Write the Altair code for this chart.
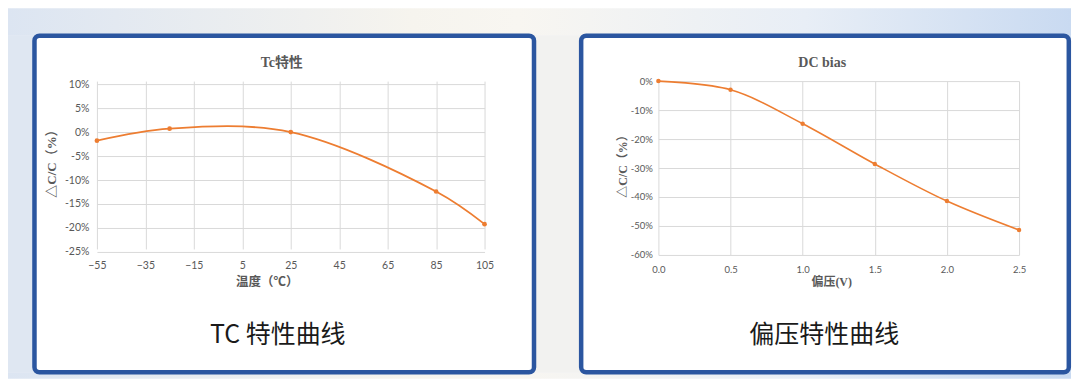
import altair as alt
import pandas as pd

# ---- data ----
temp_c = [-55, -25, 25, 85, 105]
tc_change = [-1.8, 0.7, 0.0, -12.4, -19.2]

bias_v = [0.0, 0.5, 1.0, 1.5, 2.0, 2.5]
dc_change = [0.0, -3.0, -14.7, -28.6, -41.4, -51.4]

tc_x_ticks = [-55, -35, -15, 5, 25, 45, 65, 85, 105]
tc_y_ticks = [-25, -20, -15, -10, -5, 0, 5, 10]
dc_x_ticks = [0.0, 0.5, 1.0, 1.5, 2.0, 2.5]
dc_y_ticks = [-60, -50, -40, -30, -20, -10, 0]

tc_df = pd.DataFrame({"t": temp_c, "c": tc_change})
dc_df = pd.DataFrame({"v": bias_v, "c": dc_change})
one = pd.DataFrame({"k": [0]})

ORANGE = "#ED7D31"
GRID = "#D9D9D9"
LABEL = "#595959"
CARD = "#2B56A0"
SERIF = "Liberation Serif, Noto Sans CJK SC"
SANS = "Lato, Noto Sans CJK SC"
CJK = "Noto Sans CJK SC"

grad = alt.LinearGradient(
    gradient="linear",
    stops=[
        alt.GradientStop(color="#DCE5F2", offset=0),
        alt.GradientStop(color="#F6F4EE", offset=0.38),
        alt.GradientStop(color="#F8F6F1", offset=0.48),
        alt.GradientStop(color="#E8EEF6", offset=0.75),
        alt.GradientStop(color="#C9DAF1", offset=1),
    ],
    x1=0, x2=1, y1=0, y2=0,
)


def rect(x, x2, y, y2, **kw):
    return alt.Chart(one).mark_rect(**kw).encode(
        x=alt.value(x), x2=alt.value(x2), y=alt.value(y), y2=alt.value(y2)
    )


def label_text(txt, x, y, **kw):
    return alt.Chart(one).mark_text(text=txt, align="center", baseline="middle", **kw).encode(
        x=alt.value(x), y=alt.value(y)
    )


def axis_common(**kw):
    base = dict(
        grid=True, gridColor=GRID, gridWidth=1, domain=False, ticks=False,
        labelColor=LABEL, labelFont=SANS, labelOverlap=False, labelFlush=False,
        titleColor=LABEL, titleAlign="center", titleBaseline="middle",
    )
    base.update(kw)
    return alt.Axis(**base)


# ---------- panel 1 : TC ----------
W1, H1 = 388, 171
x1 = alt.X("t:Q", scale=alt.Scale(domain=[-55, 105], nice=False, zero=False),
           axis=axis_common(values=tc_x_ticks, title="温度（℃）", labelFontSize=10.5,
                            labelPadding=9, titleFont=SERIF, titleFontWeight="bold",
                            titleFontSize=12.5, titleX=170, titleY=30))
y1 = alt.Y("c:Q", scale=alt.Scale(domain=[-25, 10], nice=False, zero=False, range=[171, 3]),
           axis=axis_common(values=tc_y_ticks, labelExpr="datum.value + '%'", title="△C/C（%）",
                            labelFontSize=10.5, labelPadding=8, titleFont=SERIF,
                            titleFontSize=13, titleX=-45, titleY=79, titleAngle=270))

bg = [
    rect(-89, 975, -73, -45.5, fill=grad),
    rect(-89, 975, 291.5, 298, fill=grad),
    rect(-89, -62.5, -46, 292, fill="#DFE7F2"),
    rect(437.5, 484.7, -46, 292, fill="#F2F2F0"),
    rect(972.8, 975, -46, 292, fill="#CCDCF2"),
]
card1 = rect(-62.5, 437.5, -45.5, 291.5, fill=None, fillOpacity=0, stroke=CARD,
             strokeWidth=4.5, cornerRadius=5)

line1 = alt.Chart(tc_df).mark_line(interpolate="catmull-rom", color=ORANGE, strokeWidth=1.8).encode(x=x1, y=y1)
pts1 = alt.Chart(tc_df).mark_circle(size=22, color=ORANGE, opacity=1).encode(x=x1, y=y1)
title1 = label_text("Tc特性", 185, -18, font=SERIF, fontWeight="bold", fontSize=14, color=LABEL)
cap1 = label_text("TC 特性曲线", 181, 254, font=CJK, fontSize=25, color="#1A1A1A")

panel1 = alt.layer(*bg, card1, line1, pts1, title1, cap1).properties(width=W1, height=H1)

# ---------- panel 2 : DC bias ----------
W2, H2 = 361, 174
x2 = alt.X("v:Q", scale=alt.Scale(domain=[0, 2.5], nice=False, zero=False),
           axis=axis_common(values=dc_x_ticks, format=".1f", title="偏压(V)", labelFontSize=9.5,
                            labelPadding=10, titleFont=SERIF, titleFontWeight="bold",
                            titleFontSize=12, titleX=173, titleY=27))
y2 = alt.Y("c:Q", scale=alt.Scale(domain=[-60, 0], nice=False, zero=False),
           axis=axis_common(values=dc_y_ticks, labelExpr="datum.value + '%'", title="△C/C（%）",
                            labelFontSize=9.5, labelPadding=6, titleFont=SERIF,
                            titleFontSize=12, titleX=-36, titleY=82, titleAngle=270))

card2 = rect(-77.3, 410.8, -45.5, 291.5, fill=None, fillOpacity=0, stroke=CARD,
             strokeWidth=4.5, cornerRadius=5)
line2 = alt.Chart(dc_df).mark_line(interpolate="catmull-rom", color=ORANGE, strokeWidth=1.6).encode(x=x2, y=y2)
pts2 = alt.Chart(dc_df).mark_circle(size=20, color=ORANGE, opacity=1).encode(x=x2, y=y2)
title2 = label_text("DC bias", 164, -18, font=SERIF, fontWeight="bold", fontSize=14, color=LABEL)
cap2 = label_text("偏压特性曲线", 166, 254, font=CJK, fontSize=25, color="#1A1A1A")

panel2 = alt.layer(card2, line2, pts2, title2, cap2).properties(width=W2, height=H2)

chart = (
    alt.hconcat(panel1, panel2, spacing=174, bounds="flush")
    .properties(padding=0, background="white")
    .configure_view(stroke=None)
)

chart.save("out.html", embed_options={"renderer": "svg", "actions": False})
